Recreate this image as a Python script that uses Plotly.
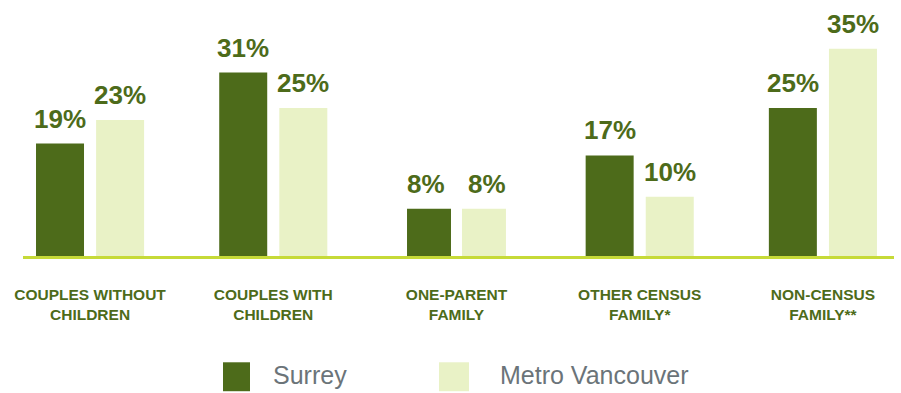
import plotly.graph_objects as go

# Household type shares (%)
categories = [
    "COUPLES WITHOUT<br>CHILDREN",
    "COUPLES WITH<br>CHILDREN",
    "ONE-PARENT<br>FAMILY",
    "OTHER CENSUS<br>FAMILY*",
    "NON-CENSUS<br>FAMILY**",
]
surrey = [19, 31, 8, 17, 25]
metro_vancouver = [23, 25, 8, 10, 35]
series_names = ["Surrey", "Metro Vancouver"]

DARK = "#4d6b1a"
LIGHT = "#e9f2c6"
LINE = "#c6da38"
GREY = "#6b7479"

W, H = 901, 393
L, R, T, B = 23, 7, 10, 136.5
plot_w = W - L - R
plot_h = H - T - B


def px(x):
    return (x - L) / plot_w


def py(y):
    return (H - B - y) / plot_h


# bar widths in category units; the one-parent pair is drawn a little slimmer
bar_w = [0.262, 0.262, 0.240, 0.262, 0.262]
offsets = [-0.164, 0.164]

fig = go.Figure()
for (name, vals, col), off in zip(
        [(series_names[0], surrey, DARK), (series_names[1], metro_vancouver, LIGHT)], offsets):
    fig.add_trace(go.Bar(
        x=categories, y=vals, name=name, width=bar_w,
        offset=[off - w / 2 + (0.014 if (i == 2 and off < 0) else (-0.014 if i == 2 else 0))
                for i, w in enumerate(bar_w)],
        marker=dict(color=col, line=dict(width=0)),
        showlegend=False, hoverinfo="skip",
    ))

# value labels above each bar
annotations = []
for i, cat in enumerate(categories):
    for vals, off in zip([surrey, metro_vancouver], offsets):
        annotations.append(dict(
            x=i + off, y=vals[i], xref="x", yref="y", text=f"{vals[i]}%",
            showarrow=False, yanchor="bottom", xanchor="center", yshift=8,
            font=dict(family="Liberation Sans, Arial", size=26, color=DARK, weight="bold"),
        ))

# legend drawn by hand: large squares with labels
shapes = []
for x0, x1, col, label, tx in [(223, 250, DARK, series_names[0], 271), (439, 469, LIGHT, series_names[1], 498)]:
    shapes.append(dict(type="rect", xref="paper", yref="paper",
                       x0=px(x0), x1=px(x1), y0=py(392), y1=py(363),
                       fillcolor=col, line=dict(width=0)))
    annotations.append(dict(x=px(tx), y=py(376), xref="paper", yref="paper", text=label,
                            showarrow=False, xanchor="left", yanchor="middle",
                            font=dict(family="Liberation Sans, Arial", size=25, color=GREY)))

ymax = (H - B - T) / 5.93

fig.update_layout(
    width=W, height=H,
    margin=dict(l=L, r=R, t=T, b=B, pad=0),
    paper_bgcolor="white", plot_bgcolor="white",
    barmode="overlay",
    annotations=annotations, shapes=shapes,
    xaxis=dict(
        type="category", range=[-0.366, 4.388],
        showline=True, linecolor=LINE, linewidth=3,
        ticks="outside", ticklen=22, tickcolor="rgba(0,0,0,0)",
        tickfont=dict(family="Liberation Sans, Arial", size=15.5, color=DARK, weight="bold"),
        showgrid=False, zeroline=False, fixedrange=True,
    ),
    yaxis=dict(range=[0, ymax], visible=False, showgrid=False, zeroline=False, fixedrange=True),
)
fig.update_xaxes(tickangle=0)

fig.write_html("out.html")
